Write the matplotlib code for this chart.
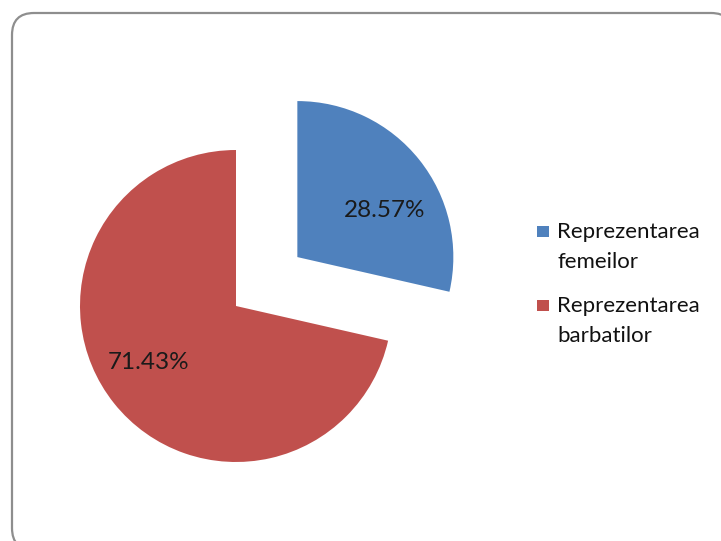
import math
import matplotlib
matplotlib.use("Agg")
import matplotlib.pyplot as plt
from matplotlib.patches import FancyBboxPatch, Rectangle

categories = ["Reprezentarea\nfemeilor", "Reprezentarea\nbarbatilor"]
values = [28.57, 71.43]
colors = ["#4F81BD", "#C0504D"]
explode_amt = [0.503, 0.0]

W, H = 721, 541
R = 156.0  # pixel radius of pie
font = "Lato"
fig = plt.figure(figsize=(W / 100, H / 100), dpi=100)

# frame axes (pixel coords, y down)
bg = fig.add_axes([0, 0, 1, 1])
bg.set_xlim(0, W)
bg.set_ylim(H, 0)
bg.axis("off")
frame = FancyBboxPatch((12, 13), 721, 537, boxstyle="round,pad=0,rounding_size=22",
                       facecolor="white", edgecolor="#8e8e8e", linewidth=1.6)
bg.add_patch(frame)

# pie axes in units of radius
ax = fig.add_axes([0, 0, 1, 1])
ax.patch.set_alpha(0)
wedges, texts, autotexts = ax.pie(
    values, colors=colors, explode=explode_amt, startangle=90, counterclock=False,
    radius=1.0, center=(236 / R, (H - 306) / R),
    autopct="%1.2f%%", pctdistance=0.65,
    textprops=dict(fontsize=17.5, color="#1a1a1a", family=font),
    wedgeprops=dict(linewidth=0),
)
# Excel places labels slightly rotated from wedge bisector
for w, t in zip(wedges, autotexts):
    thetam = math.radians(0.5 * (w.theta1 + w.theta2) - 8)
    cx, cy = w.center
    t.set_position((cx + 0.65 * math.cos(thetam), cy + 0.65 * math.sin(thetam) - 0.03))
ax.set_xlim(0, W / R)
ax.set_ylim(0, H / R)
ax.set_aspect("auto")
ax.axis("off")

# legend drawn manually (square aligned with first line, as in Excel)
for i, (cat, col) in enumerate(zip(categories, colors)):
    base = 238 + i * 74
    bg.add_patch(Rectangle((537, base - 12), 12, 11, facecolor=col, edgecolor="none"))
    for j, line in enumerate(cat.split("\n")):
        bg.text(557, base + j * 30, line, family=font, fontsize=16, color="#111111",
                va="baseline", ha="left")

fig.savefig("out.png", dpi=100)
